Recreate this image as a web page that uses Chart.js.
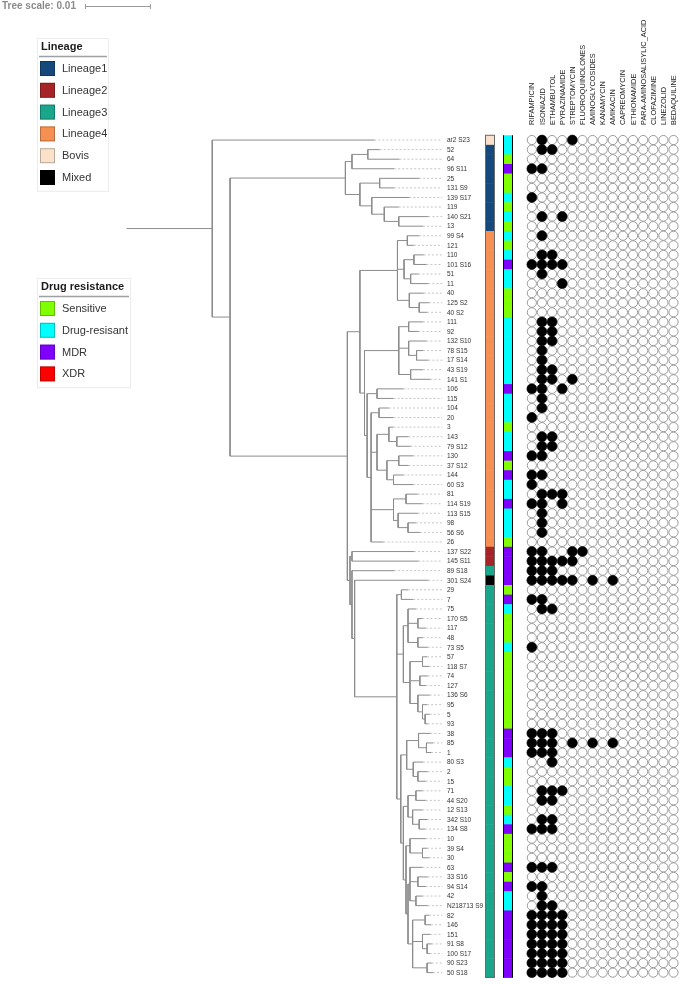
<!DOCTYPE html>
<html lang="en">
<head>
    <meta charset="UTF-8">
    <title>Phylogeny with lineage and drug resistance</title>
    <script src="https://cdn.jsdelivr.net/npm/chart.js"></script>
    <style>
        html, body { margin: 0; padding: 0; background: #fff; }
        #wrap { position: relative; width: 685px; height: 984px; }
    </style>
</head>
<body>
    <div id="wrap"><canvas id="treeChart"></canvas></div>
    <script>
        // ---- data ----
        const leafNames = [
            "ar2 S23", "52", "64", "96 S11", "25", "131 S9", "139 S17", "119", "140 S21", "13",
            "99 S4", "121", "110", "101 S16", "51", "11", "40", "125 S2", "40 S2", "111",
            "92", "132 S10", "78 S15", "17 S14", "43 S19", "141 S1", "106", "115", "104", "20",
            "3", "143", "79 S12", "130", "37 S12", "144", "60 S3", "81", "114 S19", "113 S15",
            "98", "56 S6", "26", "137 S22", "145 S11", "89 S18", "301 S24", "29", "7", "75",
            "170 S5", "117", "48", "73 S5", "57", "118 S7", "74", "127", "136 S6", "95",
            "5", "93", "38", "85", "1", "80 S3", "2", "15", "71", "44 S20",
            "12 S13", "342 S10", "134 S8", "10", "39 S4", "30", "63", "33 S16", "94 S14", "42",
            "N218713 S9", "82", "146", "151", "91 S8", "100 S17", "90 S23", "50 S18"
        ];

        const lineageNames = ["Lineage1", "Lineage2", "Lineage3", "Lineage4", "Bovis", "Mixed"];
        const lineageColors = ["#15497b", "#a62328", "#19a68a", "#f68f52", "#fbe1c9", "#000000"];

        // lineage per leaf, index into lineageNames
        const leafLineage = [
            4, 0, 0, 0, 0, 0, 0, 0, 0, 0,
            3, 3, 3, 3, 3, 3, 3, 3, 3, 3,
            3, 3, 3, 3, 3, 3, 3, 3, 3, 3,
            3, 3, 3, 3, 3, 3, 3, 3, 3, 3,
            3, 3, 3, 1, 1, 2, 5, 2, 2, 2,
            2, 2, 2, 2, 2, 2, 2, 2, 2, 2,
            2, 2, 2, 2, 2, 2, 2, 2, 2, 2,
            2, 2, 2, 2, 2, 2, 2, 2, 2, 2,
            2, 2, 2, 2, 2, 2, 2, 2
        ];

        const resistanceNames = ["Sensitive", "Drug-resisant", "MDR", "XDR"];
        const resistanceColors = ["#80ff00", "#00ffff", "#8000ff", "#ff0000"];

        // resistance class per leaf, index into resistanceNames
        const leafResistance = [
            1, 1, 0, 2, 0, 0, 1, 0, 1, 0,
            1, 0, 1, 2, 1, 1, 0, 0, 0, 1,
            1, 1, 1, 1, 1, 1, 2, 1, 1, 1,
            0, 1, 1, 2, 0, 2, 1, 1, 2, 1,
            1, 1, 0, 2, 2, 2, 2, 0, 2, 1,
            0, 0, 0, 1, 0, 0, 0, 0, 0, 0,
            0, 0, 2, 2, 2, 1, 0, 0, 1, 1,
            0, 1, 2, 0, 0, 0, 2, 0, 2, 1,
            1, 2, 2, 2, 2, 2, 2, 2
        ];

        const drugNames = [
            "RIFAMPICIN", "ISONIAZID", "ETHAMBUTOL", "PYRAZINAMIDE", "STREPTOMYCIN",
            "FLUOROQUINOLONES", "AMINOGLYCOSIDES", "KANAMYCIN", "AMIKACIN", "CAPREOMYCIN",
            "ETHIONAMIDE", "PARA-AMINOSALISYLIC_ACID", "CLOFAZIMINE", "LINEZOLID", "BEDAQUILINE"
        ];

        // drugs (column indices) each leaf is resistant to
        const leafResistantTo = [
            [1, 4], [1, 2], [], [0, 1], [], [], [0], [], [1, 3], [],
            [1], [], [1, 2], [0, 1, 2, 3], [1], [3], [], [], [], [1, 2],
            [1, 2], [1, 2], [1], [1], [1, 2], [1, 2, 4], [0, 1, 3], [1], [1], [0],
            [], [1, 2], [1, 2], [0, 1], [], [0, 1], [0], [1, 2, 3], [0, 1, 3], [1],
            [1], [1], [], [0, 1, 4, 5], [0, 1, 2, 3, 4], [0, 1, 2], [0, 1, 2, 3, 4, 6, 8], [], [0, 1], [1, 2],
            [], [], [], [0], [], [], [], [], [], [],
            [], [], [0, 1, 2], [0, 1, 2, 4, 6, 8], [0, 1, 2], [2], [], [], [1, 2, 3], [1, 2],
            [], [1, 2], [0, 1, 2], [], [], [], [0, 1, 2], [], [0, 1], [1],
            [1, 2], [0, 1, 2, 3], [0, 1, 2, 3], [0, 1, 2, 3], [0, 1, 2, 3], [0, 1, 2, 3], [0, 1, 2, 3], [0, 1, 2, 3]
        ];

        // tree, branch lengths in substitutions per site (the outer length is the root edge)
        const treeNewick = `(
          'ar2 S23':0.0246,
          (
            (
              (('52':0.0018,'64':0.0048):0.0024,'96 S11':0.0064):0.0010,
              (('25':0.0060,'131 S9':0.0022):0.0030,
               ('139 S17':0.0057,('119':0.0022,('140 S21':0.0045,'13':0.0037):0.0022):0.0019):0.0018):0.0022
            ):0.0175,
            (
              (
                (('99 S4':0.0018,'121':0.0010):0.0015,
                 (('110':0.0015,'101 S16':0.0019):0.0015,('51':0.0012,'11':0.0027):0.0010):0.0010,
                 ('40':0.0022,('125 S2':0.0015,'40 S2':0.0012):0.0015):0.0018):0.0057,
                (
                  (('111':0.0022,'92':0.0015):0.0015,
                   ('132 S10':0.0027,('78 S15':0.0010,'17 S14':0.0018):0.0012):0.0015,
                   ('43 S19':0.0019,'141 S1':0.0030):0.0018):0.0052,
                  (('106':0.0040,'115':0.0025):0.0015,
                   (('104':0.0015,'20':0.0022):0.0012,
                    (('3':0.0007,('143':0.0018,'79 S12':0.0021):0.0012):0.0018,
                     (('130':0.0022,'37 S12':0.0015):0.0018,('144':0.0015,'60 S3':0.0030):0.0010):0.0015):0.0009,
                    (('81':0.0018,'114 S19':0.0025):0.0019,
                     ('113 S15':0.0030,('98':0.0012,'56 S6':0.0018):0.0015):0.0007):0.0034,
                    '26':0.0019):0.0006):0.0004
                ):0.0007
              ):0.0019,
              (
                ('137 S22':0.0094,'145 S11':0.0101):0.0003,
                ('89 S18':0.0064,
                 ('301 S24':0.0112,
                  (('29':0.0010,'7':0.0018):0.0007,
                   (('75':0.0012,('170 S5':0.0007,'117':0.0012):0.0015,('48':0.0007,'73 S5':0.0015):0.0015):0.0007,
                    (('57':0.0007,'118 S7':0.0010):0.0019,('74':0.0012,'127':0.0009):0.0015,
                     ('136 S6':0.0018,('95':0.0007,('5':0.0007,'93':0.0004):0.0004):0.0007):0.0012):0.0010):0.0010,
                   ((('38':0.0018,('85':0.0010,'1':0.0007):0.0012):0.0018,
                     ('80 S3':0.0015,('2':0.0015,'15':0.0012):0.0007):0.0010):0.0009,
                    (((('71':0.0010,'44 S20':0.0015):0.0012,
                       ('12 S13':0.0015,('342 S10':0.0012,'134 S8':0.0009):0.0010):0.0007)):0.0007,
                     (('10':0.0024,('39 S4':0.0007,'30':0.0010):0.0019):0.0006,
                      (('63':0.0019,('33 S16':0.0015,'94 S14':0.0012):0.0012,('42':0.0010,'N218713 S9':0.0018):0.0009):0.0003,
                       (('82':0.0006,'146':0.0009):0.0019,('151':0.0012,('91 S8':0.0007,'100 S17':0.0004):0.0007):0.0015,
                        ('90 S23':0.0007,'50 S18':0.0009):0.0022):0.0007):0.0003):0.0004):0.0004):0.0006
                  ):0.0064):0.0004):0.0003
              ):0.0004
            ):0.0178
          ):0.0027
        ):0.0130;`;

        const treeScaleValue = 0.01;

        // ---- newick parsing and layout ----
        function parseNewick(s) {
            let i = 0;
            const skip = () => { while (i < s.length && /\s/.test(s[i])) i++; };
            function node() {
                skip();
                const n = { children: [], name: null, len: 0 };
                if (s[i] === '(') {
                    i++;
                    do { n.children.push(node()); skip(); } while (s[i++] === ',');
                }
                skip();
                if (s[i] === "'") {
                    const j = s.indexOf("'", i + 1);
                    n.name = s.slice(i + 1, j);
                    i = j + 1;
                }
                skip();
                if (s[i] === ':') {
                    i++;
                    const m = /^[0-9.eE-]+/.exec(s.slice(i));
                    n.len = parseFloat(m[0]);
                    i += m[0].length;
                }
                return n;
            }
            return node();
        }

        function layoutTree(n, parentX) {
            n.x = parentX + n.len;
            if (n.children.length === 0) {
                n.y = leafNames.indexOf(n.name);
            } else {
                n.children.forEach(c => layoutTree(c, n.x));
                n.y = (n.children[0].y + n.children[n.children.length - 1].y) / 2;
            }
        }

        const root = parseNewick(treeNewick);
        layoutTree(root, 0);

        const branchPts = [];
        const leaderPts = [];
        const leaves = [];
        const GAP = { x: 0, y: null };
        branchPts.push({ x: 0, y: root.y }, { x: root.x, y: root.y }, GAP);
        (function walk(n) {
            if (n.children.length === 0) { leaves.push(n); return; }
            const first = n.children[0], last = n.children[n.children.length - 1];
            branchPts.push({ x: n.x, y: first.y }, { x: n.x, y: last.y }, GAP);
            n.children.forEach(c => {
                branchPts.push({ x: n.x, y: c.y }, { x: c.x, y: c.y }, GAP);
                walk(c);
            });
        })(root);

        // layout constants (pixels)
        const W = 685, H = 984;
        const rootPx = 123, pxPerUnit = 6700;
        const firstRowPx = 136, rowPx = 9.68;
        const firstColPx = 535, colPx = 10.286;
        const leaderEndPx = 444, labelPx = 447;
        const linStrip = [485, 495], resStrip = [503, 513];

        const leaderEnd = (leaderEndPx - rootPx) / pxPerUnit;
        leaves.forEach(l => leaderPts.push({ x: l.x, y: l.y }, { x: leaderEnd, y: l.y }, GAP));

        const emptyDots = [], fullDots = [];
        leafNames.forEach((name, r) => {
            drugNames.forEach((d, c) => {
                (leafResistantTo[r].includes(c) ? fullDots : emptyDots).push({ x: c, y: r });
            });
        });

        const FONT = '"Liberation Sans", Arial, sans-serif';

        const decorPlugin = {
            id: 'decor',
            beforeDatasetsDraw(chart) {
                const ctx = chart.ctx;
                const ys = chart.scales.y;
                const xs = chart.scales.x;
                ctx.save();

                // tree scale
                ctx.fillStyle = '#8a8a8a';
                ctx.font = 'bold 10px ' + FONT;
                ctx.textBaseline = 'middle';
                ctx.fillText('Tree scale: 0.01', 2, 6);
                const barLen = xs.getPixelForValue(treeScaleValue) - xs.getPixelForValue(0);
                ctx.strokeStyle = '#9a9a9a';
                ctx.lineWidth = 1;
                ctx.beginPath();
                ctx.moveTo(85, 6.5); ctx.lineTo(85 + barLen, 6.5);
                ctx.moveTo(85.5, 4); ctx.lineTo(85.5, 9);
                ctx.moveTo(84.5 + barLen, 4); ctx.lineTo(84.5 + barLen, 9);
                ctx.stroke();

                // legends
                function legend(title, names, colors, x0, y0, w) {
                    const rowH = 21.8;
                    const h = 22 + names.length * rowH;
                    ctx.fillStyle = '#fff';
                    ctx.fillRect(x0, y0, w, h);
                    ctx.strokeStyle = '#ececec';
                    ctx.lineWidth = 1;
                    ctx.strokeRect(x0 + 0.5, y0 + 0.5, w, h);
                    ctx.fillStyle = '#1a1a1a';
                    ctx.font = 'bold 11px ' + FONT;
                    ctx.textBaseline = 'middle';
                    ctx.fillText(title, x0 + 4, y0 + 9);
                    ctx.strokeStyle = '#a0a0a0';
                    ctx.lineWidth = 1.5;
                    ctx.beginPath();
                    ctx.moveTo(x0 + 2, y0 + 18.5); ctx.lineTo(x0 + w - 1, y0 + 18.5);
                    ctx.stroke();
                    ctx.font = '11px ' + FONT;
                    names.forEach((n, k) => {
                        const cy = y0 + 30.5 + k * rowH;
                        ctx.fillStyle = colors[k];
                        ctx.fillRect(x0 + 3, cy - 7.5, 15, 15);
                        ctx.strokeStyle = 'rgba(0,0,0,0.25)';
                        ctx.lineWidth = 1;
                        ctx.strokeRect(x0 + 3.5, cy - 7, 14, 14);
                        ctx.fillStyle = '#333';
                        ctx.fillText(n, x0 + 25, cy + 0.5);
                    });
                }
                legend('Lineage', lineageNames, lineageColors, 37, 38, 71);
                legend('Drug resistance', resistanceNames, resistanceColors, 37, 278, 93);

                // colour strips
                const top = ys.getPixelForValue(-0.5), bottom = ys.getPixelForValue(leafNames.length - 0.5);
                leafNames.forEach((n, r) => {
                    const y1 = ys.getPixelForValue(r - 0.5), y2 = ys.getPixelForValue(r + 0.5);
                    ctx.fillStyle = lineageColors[leafLineage[r]];
                    ctx.fillRect(linStrip[0], y1, linStrip[1] - linStrip[0], y2 - y1 + 0.5);
                    ctx.fillStyle = resistanceColors[leafResistance[r]];
                    ctx.fillRect(resStrip[0], y1, resStrip[1] - resStrip[0], y2 - y1 + 0.5);
                });
                ctx.lineWidth = 1;
                ctx.strokeStyle = '#6a6a6a';
                ctx.strokeRect(linStrip[0] + 0.5, top, linStrip[1] - linStrip[0] - 1, bottom - top);
                ctx.strokeStyle = '#000';
                ctx.beginPath();
                ctx.moveTo(resStrip[0] + 0.5, top); ctx.lineTo(resStrip[0] + 0.5, bottom);
                ctx.moveTo(resStrip[1] - 0.5, top); ctx.lineTo(resStrip[1] - 0.5, bottom);
                ctx.stroke();

                // leaf labels
                ctx.fillStyle = '#333';
                ctx.font = '6.5px ' + FONT;
                ctx.textBaseline = 'middle';
                leafNames.forEach((n, r) => ctx.fillText(n, labelPx, ys.getPixelForValue(r) + 0.5));

                // drug headers
                const xm = chart.scales.xm;
                ctx.font = '7.4px ' + FONT;
                ctx.fillStyle = '#222';
                drugNames.forEach((d, c) => {
                    ctx.save();
                    ctx.translate(xm.getPixelForValue(c) + 0.5, 125);
                    ctx.rotate(-Math.PI / 2);
                    ctx.textAlign = 'left';
                    ctx.textBaseline = 'middle';
                    ctx.fillText(d, 0, 0);
                    ctx.restore();
                });
                ctx.restore();
            }
        };

        new Chart(document.getElementById('treeChart'), {
            type: 'scatter',
            data: {
                datasets: [
                    {
                        label: 'filled',
                        data: fullDots,
                        xAxisID: 'xm',
                        pointRadius: 5,
                        backgroundColor: '#000',
                        borderColor: '#000',
                        borderWidth: 0.5
                    },
                    {
                        label: 'empty',
                        data: emptyDots,
                        xAxisID: 'xm',
                        pointRadius: 4.6,
                        backgroundColor: '#fff',
                        borderColor: '#9a9a9a',
                        borderWidth: 1
                    },
                    {
                        label: 'branches',
                        data: branchPts,
                        showLine: true,
                        spanGaps: false,
                        pointRadius: 0,
                        borderColor: '#8c8c8c',
                        borderWidth: 1
                    },
                    {
                        label: 'leaders',
                        data: leaderPts,
                        showLine: true,
                        spanGaps: false,
                        pointRadius: 0,
                        borderColor: '#c4c4c4',
                        borderWidth: 1,
                        borderDash: [2, 2]
                    }
                ]
            },
            options: {
                responsive: true,
                maintainAspectRatio: false,
                animation: false,
                devicePixelRatio: 1,
                layout: { padding: 0 },
                plugins: { legend: { display: false }, tooltip: { enabled: false } },
                scales: {
                    x: {
                        type: 'linear', display: false,
                        min: -rootPx / pxPerUnit, max: (W - rootPx) / pxPerUnit
                    },
                    xm: {
                        type: 'linear', display: false,
                        min: -firstColPx / colPx, max: (W - firstColPx) / colPx
                    },
                    y: {
                        type: 'linear', display: false, reverse: true,
                        min: -firstRowPx / rowPx, max: (H - firstRowPx) / rowPx
                    }
                }
            },
            plugins: [decorPlugin]
        });
    </script>
</body>
</html>
